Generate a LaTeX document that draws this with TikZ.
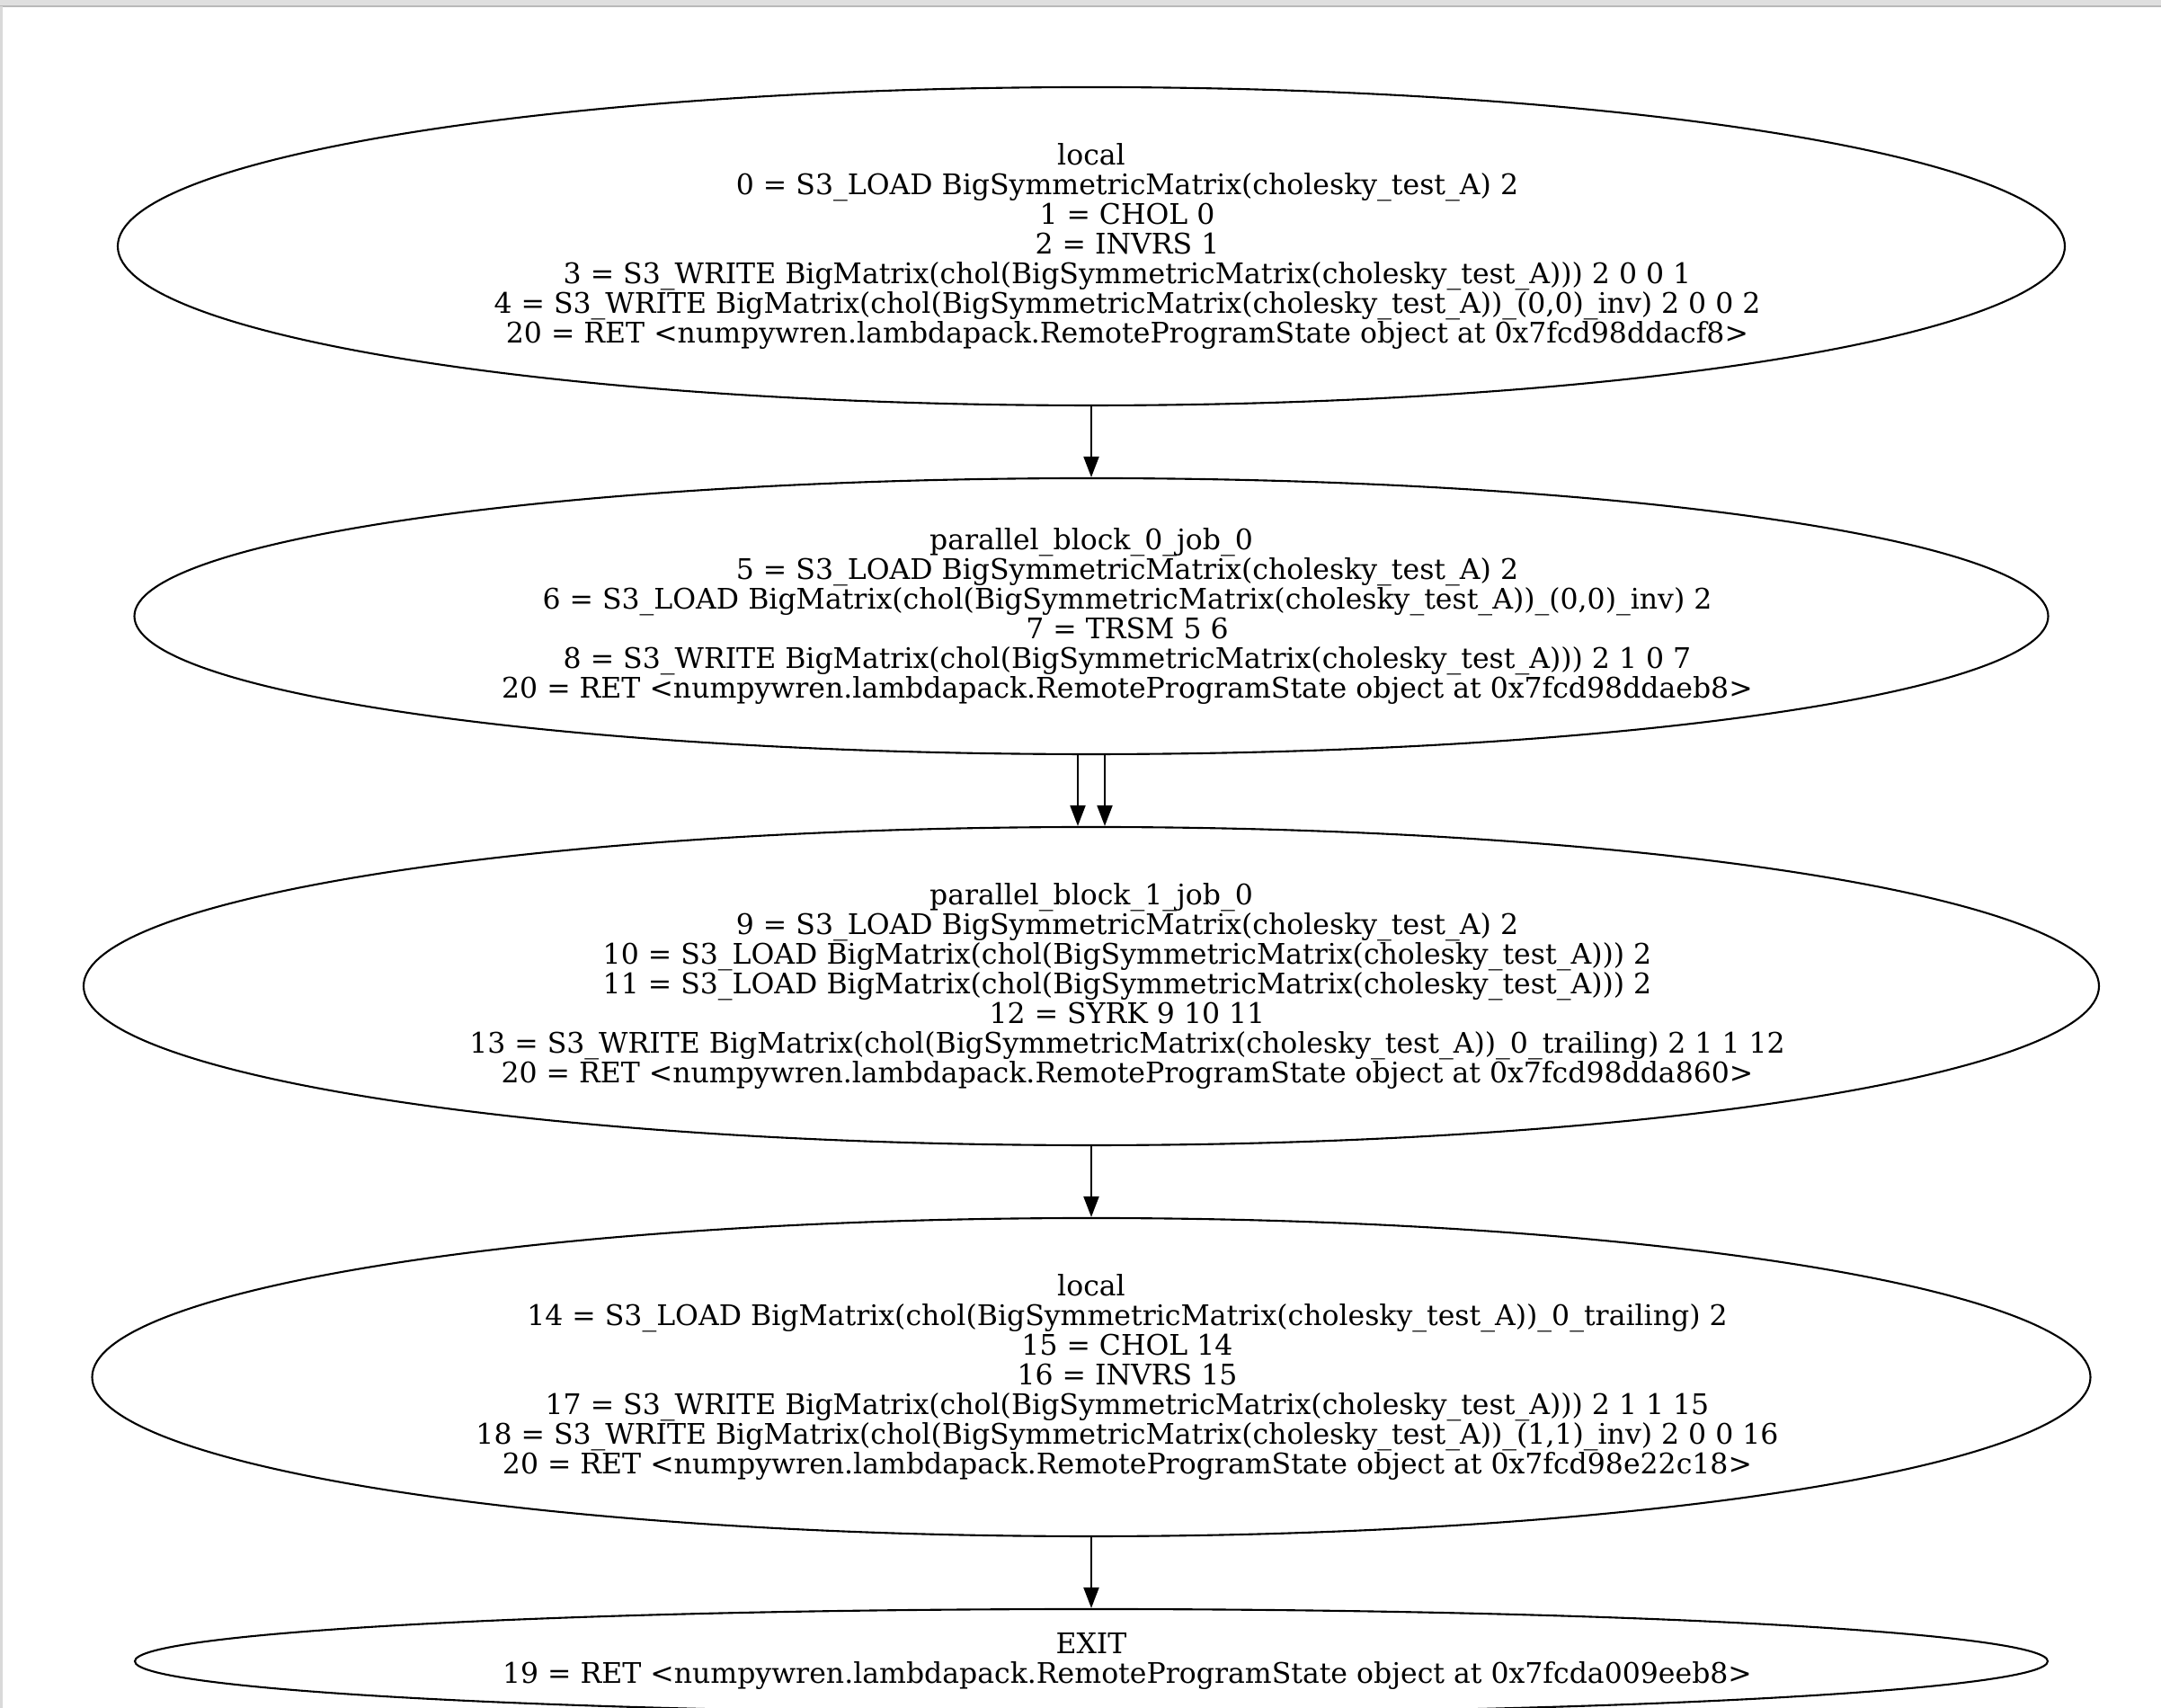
\documentclass[tikz,border=0pt]{standalone}
\usepackage{fontspec}
\setmainfont{DejaVu Serif}
\usetikzlibrary{shapes.geometric,arrows.meta}
\newcommand{\stmtfont}{\fontsize{8.97}{9.4}\selectfont\lineskiplimit=-10pt}
\newcommand{\ind}{\hspace*{0.8cm}}
\tikzset{
  block/.style={ellipse, draw, line width=0.6pt, inner sep=0pt, align=center, font=\stmtfont},
  flow/.style={-{Triangle[length=2.3mm,width=1.7mm]}, line width=0.6pt}
}
\begin{document}
\begin{tikzpicture}
\useasboundingbox (0,0) rectangle (24.04,19);
% window edges of the screenshot
\fill[gray!25] (0,18.93) rectangle (24.04,19);
\draw[gray!55, line width=0.5pt] (0,18.93) -- (24.04,18.93);
\fill[gray!30] (0,0) rectangle (0.03,18.93);
\node[block, minimum width=21.66cm, minimum height=3.54cm] (local0) at (12.14,16.26)
  {local\\
   \ind 0 = S3\_LOAD BigSymmetricMatrix(cholesky\_test\_A) 2\\
   \ind 1 = CHOL 0\\
   \ind 2 = INVRS 1\\
   \ind 3 = S3\_WRITE BigMatrix(chol(BigSymmetricMatrix(cholesky\_test\_A))) 2 0 0 1\\
   \ind 4 = S3\_WRITE BigMatrix(chol(BigSymmetricMatrix(cholesky\_test\_A))\_(0,0)\_inv) 2 0 0 2\\
   \ind 20 = RET <numpywren.lambdapack.RemoteProgramState object at 0x7fcd98ddacf8>};
\node[block, minimum width=21.29cm, minimum height=3.07cm] (pblock0) at (12.14,12.145)
  {parallel\_block\_0\_job\_0\\
   \ind 5 = S3\_LOAD BigSymmetricMatrix(cholesky\_test\_A) 2\\
   \ind 6 = S3\_LOAD BigMatrix(chol(BigSymmetricMatrix(cholesky\_test\_A))\_(0,0)\_inv) 2\\
   \ind 7 = TRSM 5 6\\
   \ind 8 = S3\_WRITE BigMatrix(chol(BigSymmetricMatrix(cholesky\_test\_A))) 2 1 0 7\\
   \ind 20 = RET <numpywren.lambdapack.RemoteProgramState object at 0x7fcd98ddaeb8>};
\node[block, minimum width=22.42cm, minimum height=3.54cm] (pblock1) at (12.14,8.03)
  {parallel\_block\_1\_job\_0\\
   \ind 9 = S3\_LOAD BigSymmetricMatrix(cholesky\_test\_A) 2\\
   \ind 10 = S3\_LOAD BigMatrix(chol(BigSymmetricMatrix(cholesky\_test\_A))) 2\\
   \ind 11 = S3\_LOAD BigMatrix(chol(BigSymmetricMatrix(cholesky\_test\_A))) 2\\
   \ind 12 = SYRK 9 10 11\\
   \ind 13 = S3\_WRITE BigMatrix(chol(BigSymmetricMatrix(cholesky\_test\_A))\_0\_trailing) 2 1 1 12\\
   \ind 20 = RET <numpywren.lambdapack.RemoteProgramState object at 0x7fcd98dda860>};
\node[block, minimum width=22.23cm, minimum height=3.54cm] (local1) at (12.14,3.68)
  {local\\
   \ind 14 = S3\_LOAD BigMatrix(chol(BigSymmetricMatrix(cholesky\_test\_A))\_0\_trailing) 2\\
   \ind 15 = CHOL 14\\
   \ind 16 = INVRS 15\\
   \ind 17 = S3\_WRITE BigMatrix(chol(BigSymmetricMatrix(cholesky\_test\_A))) 2 1 1 15\\
   \ind 18 = S3\_WRITE BigMatrix(chol(BigSymmetricMatrix(cholesky\_test\_A))\_(1,1)\_inv) 2 0 0 16\\
   \ind 20 = RET <numpywren.lambdapack.RemoteProgramState object at 0x7fcd98e22c18>};
\node[block, minimum width=21.28cm, minimum height=1.16cm] (exit) at (12.14,0.52)
  {EXIT\\
   \ind 19 = RET <numpywren.lambdapack.RemoteProgramState object at 0x7fcda009eeb8>};
\draw[flow] (local0) -- (pblock0);
\draw[flow] ([xshift=-1.5mm]pblock0.south) -- ([xshift=-1.5mm]pblock1.north);
\draw[flow] ([xshift=1.5mm]pblock0.south) -- ([xshift=1.5mm]pblock1.north);
\draw[flow] (pblock1) -- (local1);
\draw[flow] (local1) -- (exit);
\end{tikzpicture}
\end{document}
